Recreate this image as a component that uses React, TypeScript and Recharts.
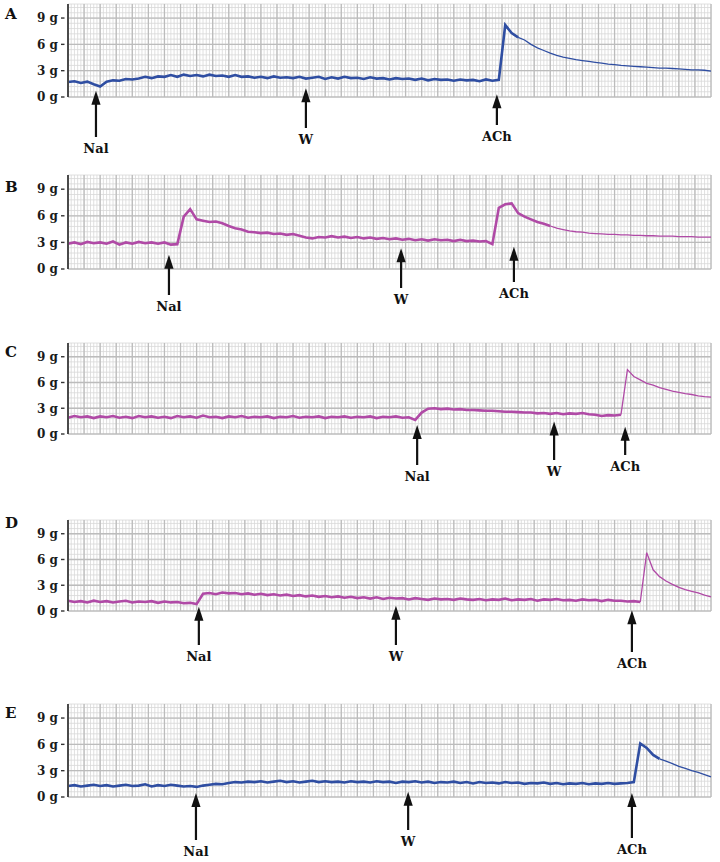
import React from 'react'
import { LineChart, Line, XAxis, YAxis, CartesianGrid, ReferenceDot } from 'recharts'

// recording time in arbitrary units, one sample every 2 units across the strip
const STEP = 2
const TIME_MAX = 200
const FORCE_MAX = 10.6
const forceTicks = [0, 3, 6, 9]

const forceA = [
  1.7, 1.8, 1.6, 1.75, 1.45, 1.2, 1.75, 1.9, 1.85, 2.05,
  2.0, 2.1, 2.3, 2.15, 2.35, 2.3, 2.5, 2.3, 2.55, 2.4,
  2.5, 2.35, 2.55, 2.4, 2.45, 2.3, 2.5, 2.3, 2.35, 2.2,
  2.3, 2.15, 2.35, 2.2, 2.25, 2.15, 2.3, 2.1, 2.2, 2.3,
  2.05, 2.25, 2.1, 2.3, 2.15, 2.2, 2.05, 2.25, 2.1, 2.15,
  2.0, 2.15, 2.05, 2.1, 1.95, 2.1, 1.9, 2.05, 1.95, 2.0,
  1.85, 2.0, 1.9, 1.95, 1.8, 2.0, 1.85, 1.95, 8.2, 7.3,
  6.8, 6.5, 6.0, 5.6, 5.3, 5.0, 4.75, 4.55, 4.4, 4.25,
  4.15, 4.05, 3.95, 3.85, 3.75, 3.7, 3.6, 3.55, 3.5, 3.45,
  3.4, 3.35, 3.3, 3.3, 3.25, 3.2, 3.15, 3.1, 3.1, 3.05,
  2.95,
]
const forceB = [
  2.85, 3.0, 2.8, 3.05, 2.9, 3.0, 2.85, 3.1, 2.75, 3.0,
  2.85, 3.05, 2.9, 3.0, 2.85, 3.0, 2.75, 2.8, 5.9, 6.75,
  5.6, 5.45, 5.3, 5.35, 5.15, 4.85, 4.6, 4.45, 4.2, 4.15,
  4.05, 4.1, 3.95, 4.0, 3.85, 3.95, 3.75, 3.55, 3.45, 3.6,
  3.55, 3.7, 3.55, 3.65, 3.5, 3.6, 3.45, 3.55, 3.4, 3.5,
  3.35, 3.45, 3.3, 3.4, 3.25, 3.35, 3.2, 3.35, 3.25, 3.3,
  3.15, 3.3, 3.15, 3.2, 3.1, 3.15, 2.8, 6.9, 7.3, 7.4,
  6.3, 5.9, 5.6, 5.3, 5.1, 4.85, 4.6, 4.45, 4.3, 4.2,
  4.15, 4.05, 4.0, 3.95, 3.9, 3.9, 3.85, 3.85, 3.8, 3.8,
  3.75, 3.75, 3.7, 3.7, 3.7, 3.65, 3.65, 3.65, 3.6, 3.6,
  3.6,
]
const forceC = [
  1.9, 2.1, 1.95, 2.05, 1.85, 2.05, 1.95, 2.1, 1.9, 2.0,
  1.85, 2.1, 1.95, 2.05, 1.9, 2.0, 1.85, 2.1, 1.95, 2.05,
  1.9, 2.15, 1.95, 2.0, 1.85, 2.05, 1.95, 2.1, 1.9, 2.0,
  1.95, 2.05, 1.85, 2.0, 1.95, 2.1, 1.9, 2.0, 1.95, 2.05,
  1.85, 2.0, 1.95, 2.05, 1.9, 2.0, 1.95, 2.05, 1.85, 2.0,
  1.95, 2.05, 1.9, 1.95, 1.65, 2.5, 2.95, 3.0, 2.9, 2.95,
  2.85, 2.9, 2.8, 2.8, 2.75, 2.7, 2.7, 2.65, 2.6, 2.6,
  2.55, 2.5, 2.5, 2.4, 2.45, 2.35, 2.45, 2.3, 2.4, 2.35,
  2.45, 2.3, 2.25, 2.1, 2.2, 2.15, 2.25, 7.5, 6.7, 6.3,
  5.9, 5.7, 5.4, 5.2, 5.0, 4.85, 4.7, 4.6, 4.45, 4.35,
  4.3,
]
const forceD = [
  1.2, 1.05, 1.15, 1.0, 1.2, 1.05, 1.15, 1.0, 1.1, 1.2,
  1.0, 1.1, 1.05, 1.15, 0.95, 1.1, 1.0, 1.05, 0.9, 0.95,
  0.8, 2.0, 2.1, 1.95, 2.15, 2.05, 2.1, 1.95, 2.05, 1.9,
  2.0, 1.85, 1.95, 1.8, 1.9, 1.75, 1.85, 1.7, 1.8, 1.65,
  1.75, 1.6, 1.7, 1.55, 1.65, 1.5, 1.6, 1.45, 1.6, 1.4,
  1.55, 1.45, 1.5, 1.35, 1.5, 1.4, 1.3, 1.45, 1.35, 1.4,
  1.3, 1.45, 1.35, 1.3, 1.4, 1.25, 1.35, 1.3, 1.45, 1.25,
  1.35, 1.3, 1.4, 1.2, 1.35, 1.3, 1.4, 1.25, 1.3, 1.2,
  1.35, 1.25, 1.3, 1.15, 1.3, 1.2, 1.2, 1.1, 1.15, 1.05,
  6.8, 4.8, 4.0, 3.5, 3.1, 2.75, 2.5, 2.3, 2.1, 1.85,
  1.65,
]
const forceE = [
  1.25, 1.35, 1.2, 1.3, 1.4, 1.25, 1.35, 1.2, 1.3, 1.4,
  1.25, 1.3, 1.45, 1.2, 1.35, 1.25, 1.4, 1.3, 1.2, 1.25,
  1.15, 1.3, 1.4, 1.5, 1.45, 1.6, 1.7, 1.65, 1.75, 1.7,
  1.8, 1.65, 1.75, 1.85, 1.7, 1.8, 1.65, 1.75, 1.85, 1.7,
  1.8, 1.7, 1.75, 1.65, 1.8, 1.7, 1.75, 1.65, 1.8, 1.7,
  1.75, 1.6, 1.75, 1.7, 1.8, 1.65, 1.75, 1.6, 1.7, 1.65,
  1.75, 1.6, 1.7, 1.55, 1.7, 1.6, 1.65, 1.55, 1.7, 1.6,
  1.65, 1.5, 1.6, 1.55, 1.65, 1.5, 1.6, 1.45, 1.55, 1.5,
  1.6, 1.45, 1.55, 1.5, 1.6, 1.5, 1.55, 1.6, 1.7, 6.1,
  5.6, 4.8, 4.35, 4.1, 3.8, 3.5, 3.25, 3.0, 2.8, 2.55,
  2.3,
]

// drug additions: time of the arrow and the tension at its tip
const arrowsA = [{ label: 'Nal', t: 8.7, tip: 0.7 }, { label: 'W', t: 74, tip: 1.0 }, { label: 'ACh', t: 133.4, tip: 0.3 }]
const arrowsB = [{ label: 'Nal', t: 31.4, tip: 1.6 }, { label: 'W', t: 103.6, tip: 2.35 }, { label: 'ACh', t: 138.7, tip: 2.5 }]
const arrowsC = [{ label: 'Nal', t: 108.6, tip: 1.05 }, { label: 'W', t: 151.2, tip: 1.45 }, { label: 'ACh', t: 173.3, tip: 0.85 }]
const arrowsD = [{ label: 'Nal', t: 40.7, tip: 0.5 }, { label: 'W', t: 102, tip: 0.6 }, { label: 'ACh', t: 175.4, tip: 0.1 }]
const arrowsE = [{ label: 'Nal', t: 39.8, tip: 0.45 }, { label: 'W', t: 105.8, tip: 0.6 }, { label: 'ACh', t: 175.4, tip: 0.45 }]

const BLUE = '#2f4ea2'
const MAGENTA = '#b04aa6'
const FONT = '"DejaVu Serif", serif'

// layout: plot top/bottom on the page, arrow lengths below plot, sample where the trace turns thin
const panels = [
  { letter: 'A', letterY: 19, values: forceA, arrows: arrowsA, color: BLUE, top: 4, bottom: 97, drops: [40, 31, 28], thinFrom: 70 },
  { letter: 'B', letterY: 192, values: forceB, arrows: arrowsB, color: MAGENTA, top: 175, bottom: 269, drops: [26, 19, 13], thinFrom: 75 },
  { letter: 'C', letterY: 357, values: forceC, arrows: arrowsC, color: MAGENTA, top: 343, bottom: 434, drops: [31, 26, 21], thinFrom: 86 },
  { letter: 'D', letterY: 528, values: forceD, arrows: arrowsD, color: MAGENTA, top: 520, bottom: 611, drops: [34, 34, 41], thinFrom: 89 },
  { letter: 'E', letterY: 718, values: forceE, arrows: arrowsE, color: BLUE, top: 704, bottom: 797, drops: [43, 33, 41], thinFrom: 92 },
]

// chart-paper grid: fine divisions and heavier ones
const minorX: number[] = []
for (let t = 0; t <= TIME_MAX; t += 1) minorX.push(t)
const majorX = minorX.filter(t => t % 5 === 0)
const minorY: number[] = []
for (let i = 1; i * 0.6 < FORCE_MAX; i++) minorY.push(i * 0.6)
minorY.push(FORCE_MAX)

const vGen = (ts: number[]) => ({ offset }: any) => ts.map(t => offset.left + (t / TIME_MAX) * offset.width)
const hGen = (gs: number[]) => ({ offset }: any) => gs.map(g => offset.top + offset.height - (g / FORCE_MAX) * offset.height)

const M_TOP = 4
const M_BOTTOM = 72

const GTick = (p: any) => (
  <g>
    <text x={58} y={p.y} dy={4.3} textAnchor="end" fontFamily={FONT} fontWeight="bold" fontSize={12} fill="#1a1a1a">
      {`${p.payload.value} g`}
    </text>
    <line x1={61} x2={64.5} y1={p.y} y2={p.y} stroke="#333" strokeWidth={1.4} />
  </g>
)

function arrowShape(label: string, endY: number) {
  return (p: any) => {
    const { cx, cy } = p
    return (
      <g>
        <line x1={cx} y1={cy + 10} x2={cx} y2={endY} stroke="#111" strokeWidth={2.2} />
        <path d={`M${cx},${cy} L${cx - 4.6},${cy + 14} L${cx + 4.6},${cy + 14} Z`} fill="#111" />
        <text x={cx} y={endY + 16} textAnchor="middle" fontFamily={FONT} fontWeight="bold" fontSize={13} fill="#111">
          {label}
        </text>
      </g>
    )
  }
}

function Strip({ panel }: { panel: typeof panels[number] }) {
  const h = panel.bottom - panel.top
  const rows = panel.values.map((v, i) => ({
    t: i * STEP,
    noisy: i <= panel.thinFrom ? v : null,
    smooth: i >= panel.thinFrom ? v : null,
  }))
  return (
    <div style={{ position: 'absolute', left: 0, top: panel.top - M_TOP }}>
      <LineChart width={720} height={h + M_TOP + M_BOTTOM} data={rows} margin={{ top: M_TOP, right: 9, bottom: M_BOTTOM, left: 0 }}>
        <CartesianGrid stroke="#d8d8d8" strokeWidth={0.8}
          verticalCoordinatesGenerator={vGen(minorX)} horizontalCoordinatesGenerator={hGen(minorY)} />
        <CartesianGrid stroke="#bcbcbc" strokeWidth={1.3}
          verticalCoordinatesGenerator={vGen(majorX)} horizontalCoordinatesGenerator={hGen(forceTicks)} />
        <XAxis type="number" dataKey="t" domain={[0, TIME_MAX]} hide />
        <YAxis type="number" domain={[0, FORCE_MAX]} ticks={forceTicks} width={68} tickLine={false}
          axisLine={{ stroke: '#4a4a4a', strokeWidth: 2 }} tick={GTick} interval={0} />
        <Line dataKey="noisy" stroke={panel.color} strokeWidth={2.6} dot={false} isAnimationActive={false} type="linear" />
        <Line dataKey="smooth" stroke={panel.color} strokeWidth={1.3} dot={false} isAnimationActive={false} type="linear" />
        {panel.arrows.map((a, i) => (
          <ReferenceDot key={a.label} x={a.t} y={a.tip} r={0}
            shape={arrowShape(a.label, M_TOP + h + panel.drops[i])} />
        ))}
      </LineChart>
    </div>
  )
}

export default function App() {
  return (
    <div style={{ position: 'absolute', left: 0, top: 0, width: 720, height: 862, background: '#fff' }}>
      {panels.map(p => <Strip key={p.letter} panel={p} />)}
      <svg width={720} height={862} style={{ position: 'absolute', left: 0, top: 0, pointerEvents: 'none' }}>
        {panels.map(p => (
          <text key={p.letter} x={5} y={p.letterY} fontFamily={FONT} fontWeight="bold" fontSize={15} fill="#111">{p.letter}</text>
        ))}
      </svg>
    </div>
  )
}
